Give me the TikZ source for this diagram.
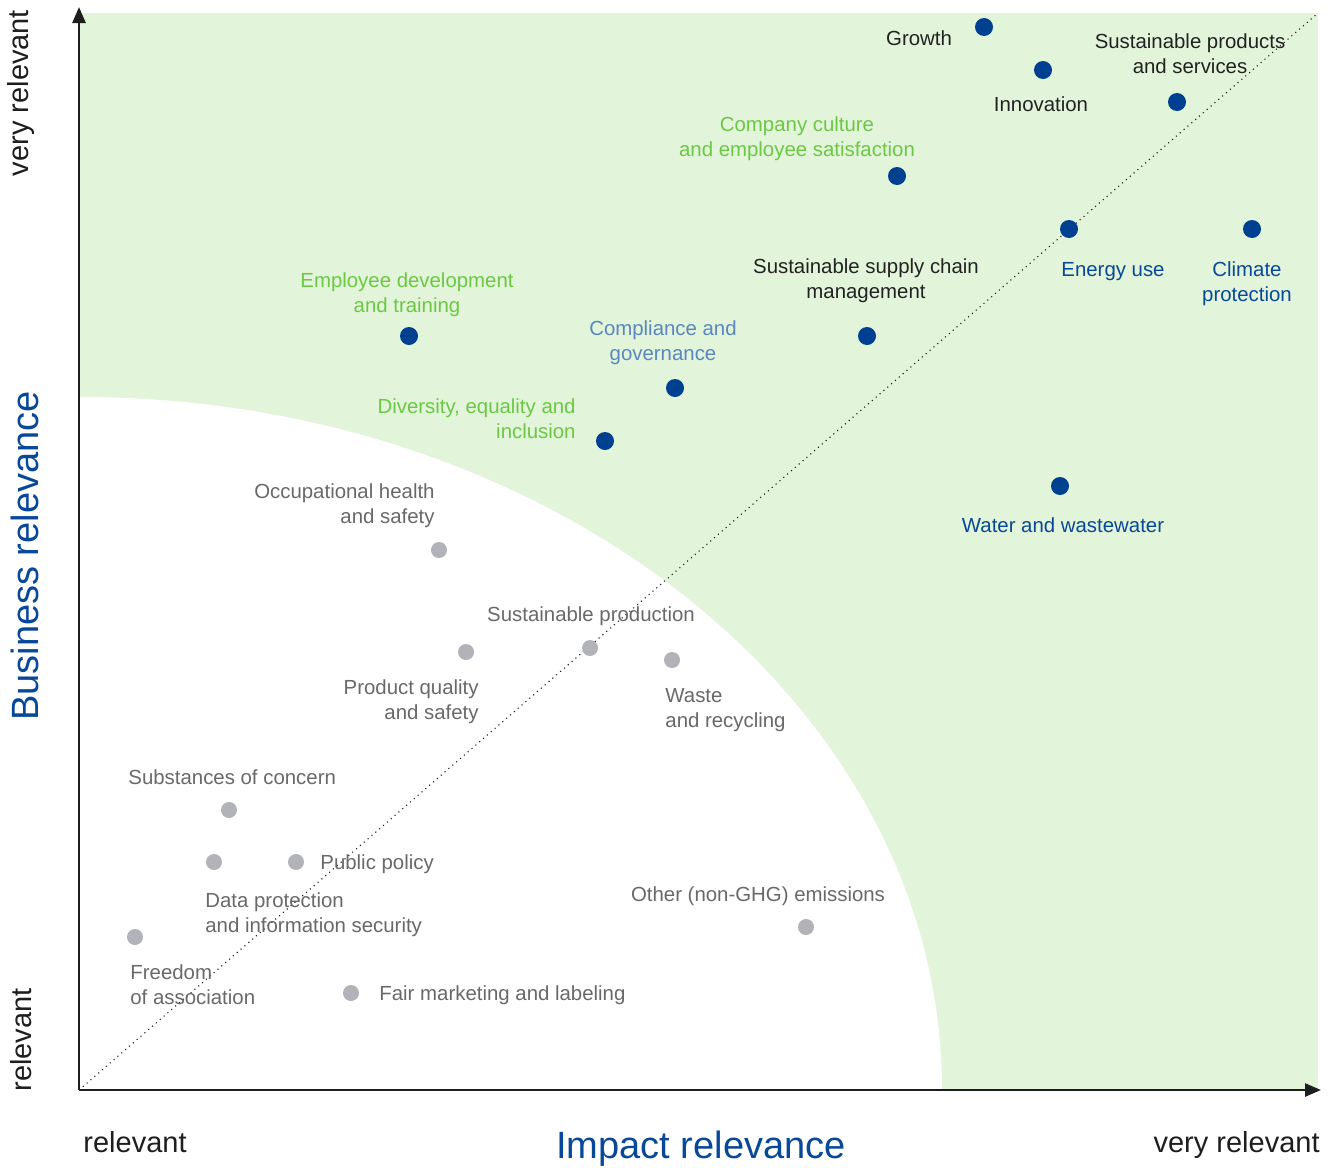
\documentclass[tikz,border=0pt]{standalone}
\usepackage{fontspec}
\setmainfont{Liberation Sans}
\usetikzlibrary{arrows.meta}
\definecolor{bggreen}{RGB}{226,245,218}
\definecolor{dotblue}{RGB}{0,64,145}
\definecolor{dotgray}{RGB}{178,178,185}
\definecolor{txtblack}{RGB}{34,34,34}
\definecolor{txtgreen}{RGB}{108,200,68}
\definecolor{txtlblue}{RGB}{90,135,190}
\definecolor{txtblue}{RGB}{8,72,152}
\definecolor{txtgray}{RGB}{105,105,105}
\definecolor{axiscol}{RGB}{30,30,30}
\tikzset{
  bdot/.style={circle,fill=dotblue,inner sep=0pt,minimum size=9pt},
  gdot/.style={circle,fill=dotgray,inner sep=0pt,minimum size=8pt},
  lbl/.style={inner sep=0pt,align=center,font=\fontsize{10.2}{12.5}\selectfont},
  lblr/.style={lbl,align=right},
  lbll/.style={lbl,align=left},
  axislbl/.style={inner sep=0pt,text=axiscol,font=\fontsize{14.5}{17}\selectfont},
  axistitle/.style={inner sep=0pt,text=txtblue,font=\fontsize{19}{22}\selectfont},
  axisline/.style={draw=axiscol,line width=1.3pt,-{Triangle[length=8pt,width=6.5pt]}},
  diag/.style={draw=axiscol,line width=0.55pt,dotted}
}
\begin{document}
\begin{tikzpicture}[x=0.5pt,y=-0.5pt]
\useasboundingbox (0,0) rectangle (1331,1167);
% background regions
\fill[bggreen] (80,13) rectangle (1318,1090);
\fill[white] (80,1090) -- (80,397) arc[start angle=-90,end angle=0,x radius=862,y radius=693] -- cycle;
% coordinates
\coordinate (origin) at (79,1090);
\coordinate (yend) at (79,7);
\coordinate (xend) at (1321,1090);
\coordinate (diagend) at (1318,13);
% diagonal
\draw[diag] (origin) -- (diagend);
% axes
\draw[axisline] (origin) -- (yend);
\draw[axisline] (origin) -- (xend);
% axis labels
\node[axislbl,rotate=90] (yvr) at (21,93) {very relevant};
\node[axislbl,rotate=90] (yr) at (21,1040) {relevant};
\node[axislbl] (xr) at (135,1142) {relevant};
\node[axislbl,anchor=east] (xvr) at (1320,1145) {very relevant};
\node[axistitle] (ximp) at (701,1149) {Impact relevance};
\node[axistitle,rotate=90] (ybus) at (25,556) {Business relevance};
% blue dots
\node[bdot] (growth) at (984,27) {};
\node[bdot] (innov) at (1043,70) {};
\node[bdot] (susprod) at (1177,102) {};
\node[bdot] (culture) at (897,176) {};
\node[bdot] (energy) at (1069,229) {};
\node[bdot] (climate) at (1252,229) {};
\node[bdot] (supply) at (867,336) {};
\node[bdot] (empdev) at (409,336) {};
\node[bdot] (compl) at (675,388) {};
\node[bdot] (divers) at (605,441) {};
\node[bdot] (water) at (1060,486) {};
% gray dots
\node[gdot] (occup) at (439,550) {};
\node[gdot] (prodq) at (466,652) {};
\node[gdot] (susproduction) at (590,648) {};
\node[gdot] (waste) at (672,660) {};
\node[gdot] (subst) at (229,810) {};
\node[gdot] (datap) at (214,862) {};
\node[gdot] (policy) at (296,862) {};
\node[gdot] (freedom) at (135,937) {};
\node[gdot] (fair) at (351,993) {};
\node[gdot] (emiss) at (806,927) {};
% blue-dot labels
\node[lbl,text=txtblack] (growthL) at (919,38) {Growth};
\node[lbl,text=txtblack] (innovL) at (1041,104) {Innovation};
\node[lbl,text=txtblack] (susprodL) at (1190,54) {Sustainable products\\and services};
\node[lbl,text=txtgreen] (cultureL) at (797,139) {Company culture\\and employee satisfaction};
\node[lbl,text=txtblue] (energyL) at (1113,272) {Energy use};
\node[lbl,text=txtblue] (climateL) at (1247,284) {Climate\\protection};
\node[lbl,text=txtblack] (supplyL) at (866,281) {Sustainable supply chain\\management};
\node[lbl,text=txtgreen] (empdevL) at (407,295) {Employee development\\and training};
\node[lbl,text=txtlblue] (complL) at (663,343) {Compliance and\\governance};
\node[lblr,text=txtgreen,anchor=east] (diversL) at (576,419) {Diversity, equality and\\inclusion};
\node[lbl,text=txtblue] (waterL) at (1063,525) {Water and wastewater};
% gray-dot labels
\node[lblr,text=txtgray,anchor=east] (occupL) at (435,506) {Occupational health\\and safety};
\node[lblr,text=txtgray,anchor=east] (prodqL) at (479,702) {Product quality\\and safety};
\node[lbl,text=txtgray] (susproductionL) at (591,616) {Sustainable production};
\node[lbll,text=txtgray,anchor=west] (wasteL) at (665,710) {Waste\\and recycling};
\node[lbll,text=txtgray,anchor=west] (substL) at (128,777) {Substances of concern};
\node[lbll,text=txtgray,anchor=west] (datapL) at (205,915) {Data protection\\and information security};
\node[lbll,text=txtgray,anchor=west] (policyL) at (320,864) {Public policy};
\node[lbll,text=txtgray,anchor=west] (freedomL) at (130,985) {Freedom\\of association};
\node[lbll,text=txtgray,anchor=west] (fairL) at (379,995) {Fair marketing and labeling};
\node[lbl,text=txtgray] (emissL) at (758,896) {Other (non-GHG) emissions};
\end{tikzpicture}
\end{document}
